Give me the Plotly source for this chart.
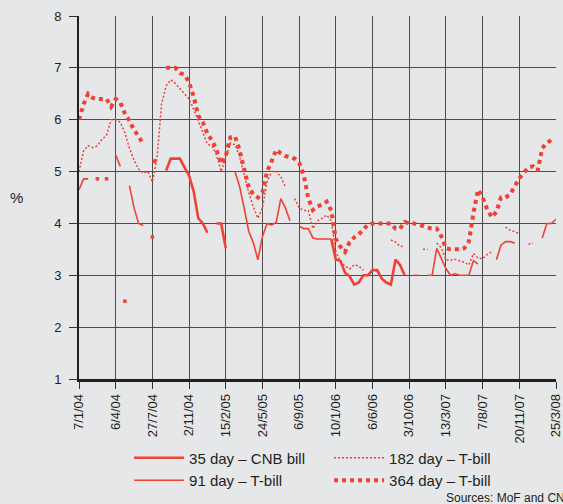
import plotly.graph_objects as go

# tick labels (one every 8 auctions)
tick_labels = ['7/1/04', '6/4/04', '27/7/04', '2/11/04', '15/2/05', '24/5/05', '6/9/05',
               '10/1/06', '6/6/06', '3/10/06', '13/3/07', '7/8/07', '20/11/07', '25/3/08']
step = 8

N = None
cnb35 = [N, N, N, N, N, N, N, N, N, N, 2.5, N, N, N, N, N, N, N, N, 5.02,
         5.25, 5.25, 5.25, 5.08, 4.92, 4.62, 4.1, 4.0, 3.82, N, 4.0, 4.0, 3.52, N, N, N, N, N, N, N,
         N, N, N, N, N, N, N, N, N, N, N, N, N, N, N, 3.7, 3.3, 3.28, 3.05, 2.98,
         2.82, 2.86, 3.0, 3.0, 3.1, 3.1, 2.94, 2.86, 2.82, 3.3, 3.2, 3.0, N, N, N, N, N, N, N, N,
         N, N, N, N, N, N, N, N, N, N, N, N, N, N, N, N, N, N, N, N, N, N, N, N, N]
tb91 = [4.65, 4.86, 4.86, N, 4.86, N, 4.86, N, 5.32, 5.1, N, 4.73, 4.3, 4.0, 3.96, N, 3.74, N, N, N,
        N, N, N, N, N, N, N, N, N, N, N, N, N, N, 5.0, 4.72, 4.3, 3.85, 3.63, 3.3,
        3.75, 4.0, 3.97, 4.02, 4.48, 4.3, 4.05, N, 3.95, 3.9, 3.9, 3.72, 3.7, 3.7, 3.7, 3.7, N, N, N, N,
        N, N, N, N, N, N, N, N, N, N, N, N, N, 3.0, 3.0, N, 3.0, 3.0, 3.52, 3.32,
        3.13, 3.0, 3.03, 3.0, 3.0, 3.0, 3.28, 3.22, N, N, N, 3.3, 3.58, 3.65, 3.65, 3.62, N, N, N, N,
        N, 3.72, 4.0, 4.0, 4.08]
tb182 = [5.0, 5.4, 5.5, 5.46, 5.5, 5.62, 5.7, 6.0, 6.0, 5.95, 5.75, 5.45, 5.22, 5.05, 4.97, 5.0,
         4.8, 5.25, 6.3, 6.65, 6.77, 6.7, 6.6, 6.5, 6.4, 6.2, 5.97, 5.72, 5.53, 5.49, 5.32, 5.0,
         5.26, 5.55, 5.52, 5.3, 4.95, 4.6, 4.32, 4.1, 4.3, 4.8, 5.0, 5.0, 4.9, 4.7, N, 4.48,
         4.3, 4.25, 4.25, 3.9, 4.05, 4.1, 4.16, 4.05, 3.45, 3.26, 3.18, 3.12, 3.2, 3.18, 3.1, N,
         N, N, N, N, 3.68, 3.64, 3.56, 3.55, N, N, N, 3.5, 3.5, N, 3.62, 3.53,
         3.3, 3.29, 3.31, 3.28, 3.25, 3.2, 3.42, 3.33, 3.32, 3.4, 3.45, N, N, 3.93, 3.87, 3.84,
         3.8, N, 3.6, 3.62, N, N, N, N, N]
tb364 = [6.0, 6.3, 6.5, 6.42, 6.4, 6.4, 6.4, 6.25, 6.4, 6.33, 6.12, 5.98, 5.8, 5.68, 5.53, N,
         5.2, 5.2, N, 7.0, 7.0, 7.0, 6.9, 6.87, 6.72, 6.45, 6.08, 5.95, 5.73, 5.6, 5.42, 5.15,
         5.3, 5.66, 5.68, 5.42, 5.05, 4.7, 4.56, 4.5, 4.6, 5.0, 5.2, 5.42, 5.35, 5.3, 5.28, 5.25,
         5.17, 4.93, 4.48, 4.26, 4.33, 4.36, 4.42, 4.25, 3.7, 3.55, 3.45, 3.64, 3.73, 3.79, 3.88, 3.98,
         4.0, 4.0, 4.0, 4.0, 4.0, 3.9, 3.9, 4.03, 4.0, 4.0, 3.98, 3.95, 3.92, 3.9, 3.9, 3.75,
         3.52, 3.5, 3.5, 3.5, 3.52, 3.65, 4.2, 4.65, 4.5, 4.27, 4.12, 4.22, 4.5, 4.5, 4.56, 4.72,
         4.87, 4.98, 5.08, 5.1, 5.02, 5.45, 5.55, 5.61, N]

RED = '#ef4136'
BG = '#e6e7e9'
GRID = '#4d4d4d'
x = list(range(len(tb364)))


def isolated(vals):
    out = []
    for i, v in enumerate(vals):
        left = vals[i - 1] if i > 0 else None
        right = vals[i + 1] if i < len(vals) - 1 else None
        out.append(v if v is not None and left is None and right is None else None)
    return out


fig = go.Figure()
series = [
    ('35 day \u2013 CNB bill', cnb35, dict(color=RED, width=2.6)),
    ('182 day \u2013 T-bill', tb182, dict(color=RED, width=1.5, dash='2px,2px')),
    ('91 day \u2013 T-bill', tb91, dict(color=RED, width=1.6)),
    ('364 day \u2013 T-bill', tb364, dict(color=RED, width=4, dash='dot')),
]
for name, vals, line in series:
    fig.add_trace(go.Scatter(x=x, y=vals, name=name, mode='lines', line=line,
                             connectgaps=False, hoverinfo='skip'))
for name, vals, line in series:
    iso = isolated(vals)
    if any(v is not None for v in iso):
        fig.add_trace(go.Scatter(x=x, y=iso, mode='markers', showlegend=False,
                                 marker=dict(color=RED, size=3.5, symbol='square'),
                                 hoverinfo='skip'))

fig.update_layout(
    template='none',
    width=563, height=504,
    margin=dict(l=79, r=7, t=16, b=125, autoexpand=False),
    paper_bgcolor=BG, plot_bgcolor=BG,
    font=dict(family='Liberation Sans, Arial, sans-serif', size=13, color='#231f20'),
    legend=dict(orientation='h', x=0.105, y=-0.172, xanchor='left', yanchor='top',
                entrywidth=135, font=dict(size=15), itemwidth=50,
                bgcolor='rgba(0,0,0,0)'),
    annotations=[
        dict(text='%', xref='paper', yref='paper', x=-0.132, y=0.5, xanchor='center',
             showarrow=False, font=dict(size=15)),
        dict(text='Sources: MoF and CNB', xref='paper', yref='paper', x=0.766, y=-0.328,
             xanchor='left', yanchor='middle', showarrow=False, font=dict(size=12)),
    ],
)
fig.update_xaxes(
    range=[0, len(x) - 1], tickmode='array',
    tickvals=[i * step for i in range(len(tick_labels))], ticktext=tick_labels,
    tickangle=-90, ticks='outside', ticklen=7, tickcolor='#333333',
    ticklabeloverflow='allow',
    showgrid=True, gridcolor=GRID, gridwidth=1.3,
    showline=True, linecolor='#231f20', linewidth=2.5, zeroline=False,
)
fig.update_yaxes(
    range=[1, 8], dtick=1, ticks='outside', ticklen=8, tickcolor='#333333',
    ticklabelstandoff=5,
    showgrid=True, gridcolor=GRID, gridwidth=1.3,
    showline=True, linecolor='#231f20', linewidth=2, zeroline=False,
)

# the page's default body margin would offset the 563x504 figure
fig.write_html("out.html", config={'displayModeBar': False},
               post_script="document.body.style.margin='0';"
                           "document.documentElement.style.background='%s';" % BG)
